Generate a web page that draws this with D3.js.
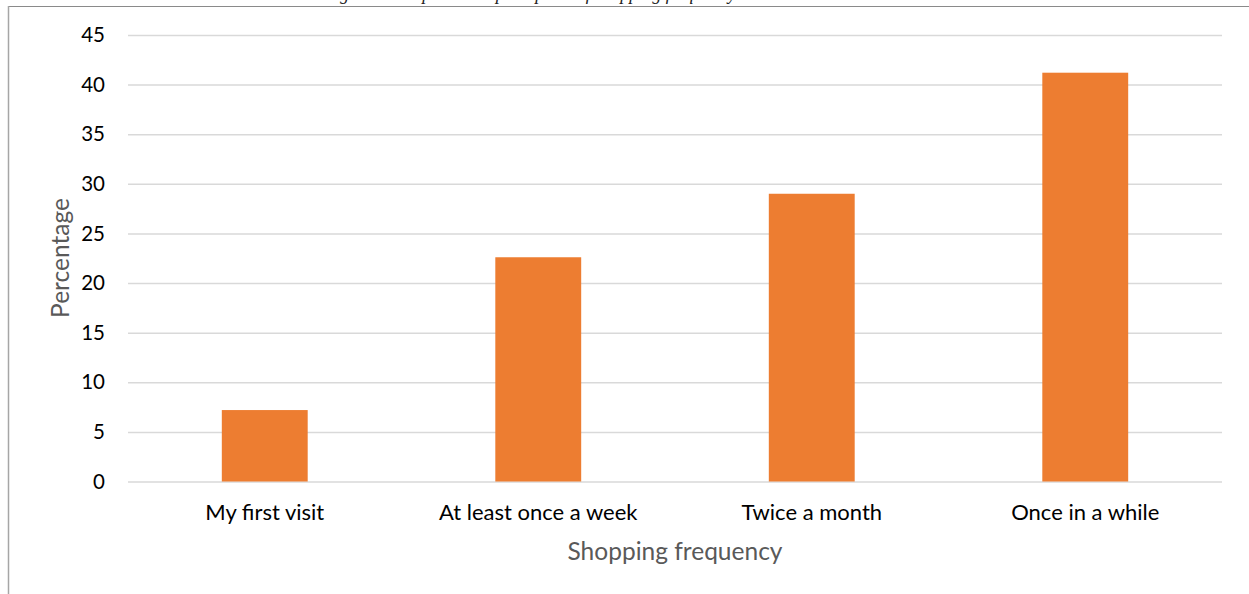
<!DOCTYPE html>
<html>
<head>
<meta charset="utf-8">
<script src="https://cdn.jsdelivr.net/npm/d3@7"></script>
<style>
  html, body { margin: 0; padding: 0; background: #fff; }
  svg { display: block; }
</style>
</head>
<body>
<svg id="chart" width="1249" height="594"></svg>
<script>
const categories = ["My first visit", "At least once a week", "Twice a month", "Once in a while"];
const values = [7.2, 22.6, 29.0, 41.2];
const yTicks = [0, 5, 10, 15, 20, 25, 30, 35, 40, 45];
const titleText = "Figure 6: Respondents\u2019 perception of shopping frequency";
const xTitle = "Shopping frequency";
const yTitle = "Percentage";

const svg = d3.select("#chart");
const W = 1249, H = 594;
const plot = { left: 128, right: 1222, top: 35, bottom: 481.5 };
const sans = "Lato, 'Open Sans', sans-serif";

// frame lines
svg.append("line").attr("x1", 8).attr("x2", W).attr("y1", 6.5).attr("y2", 6.5)
  .attr("stroke", "#8a8a8a").attr("stroke-width", 1.2);
svg.append("line").attr("x1", 8.5).attr("x2", 8.5).attr("y1", 6).attr("y2", H)
  .attr("stroke", "#a6a6a6").attr("stroke-width", 1.5);

// title: only the bottom of its descenders shows above the frame
svg.append("text")
  .attr("x", 530).attr("y", -0.5).attr("text-anchor", "middle")
  .attr("font-family", "Liberation Serif, serif").attr("font-style", "italic")
  .attr("font-size", 18).attr("fill", "#222").text(titleText);

const x = d3.scaleBand().domain(categories).range([plot.left, plot.right]).paddingInner(0.686).paddingOuter(0.343);
const y = d3.scaleLinear().domain([0, 45]).range([plot.bottom, plot.top]);

// gridlines
const grid = d3.axisLeft(y).tickValues(yTicks).tickSize(-(plot.right - plot.left)).tickFormat("");
const gg = svg.append("g").attr("transform", `translate(${plot.left},0)`).call(grid);
gg.select(".domain").remove();
gg.selectAll(".tick line").attr("stroke", "#d9d9d9").attr("stroke-width", 1.5);

// y tick labels
const ya = d3.axisLeft(y).tickValues(yTicks).tickSize(0).tickPadding(0);
const yg = svg.append("g").attr("transform", "translate(105,0)").call(ya);
yg.select(".domain").remove();
yg.selectAll("text").attr("font-family", sans)
  .attr("font-size", 20.5).attr("fill", "#000");

// bars
svg.append("g").selectAll("rect").data(values).join("rect")
  .attr("x", (d, i) => x(categories[i]))
  .attr("width", x.bandwidth())
  .attr("y", d => y(d))
  .attr("height", d => y(0) - y(d))
  .attr("fill", "#ed7d31");

// x category labels
const xa = d3.axisBottom(x).tickSize(0).tickPadding(0);
const xg = svg.append("g").attr("transform", "translate(0,504)").call(xa);
xg.select(".domain").remove();
xg.selectAll("text").attr("font-family", sans)
  .attr("font-size", 22).attr("fill", "#000");

// axis titles
svg.append("text").attr("x", (plot.left + plot.right) / 2).attr("y", 560)
  .attr("text-anchor", "middle").attr("font-family", sans)
  .attr("font-size", 24.5).attr("fill", "#595959").text(xTitle);
svg.append("text").attr("transform", "translate(69,258) rotate(-90)")
  .attr("text-anchor", "middle").attr("font-family", sans)
  .attr("font-size", 24.5).attr("fill", "#595959").text(yTitle);
</script>
</body>
</html>
